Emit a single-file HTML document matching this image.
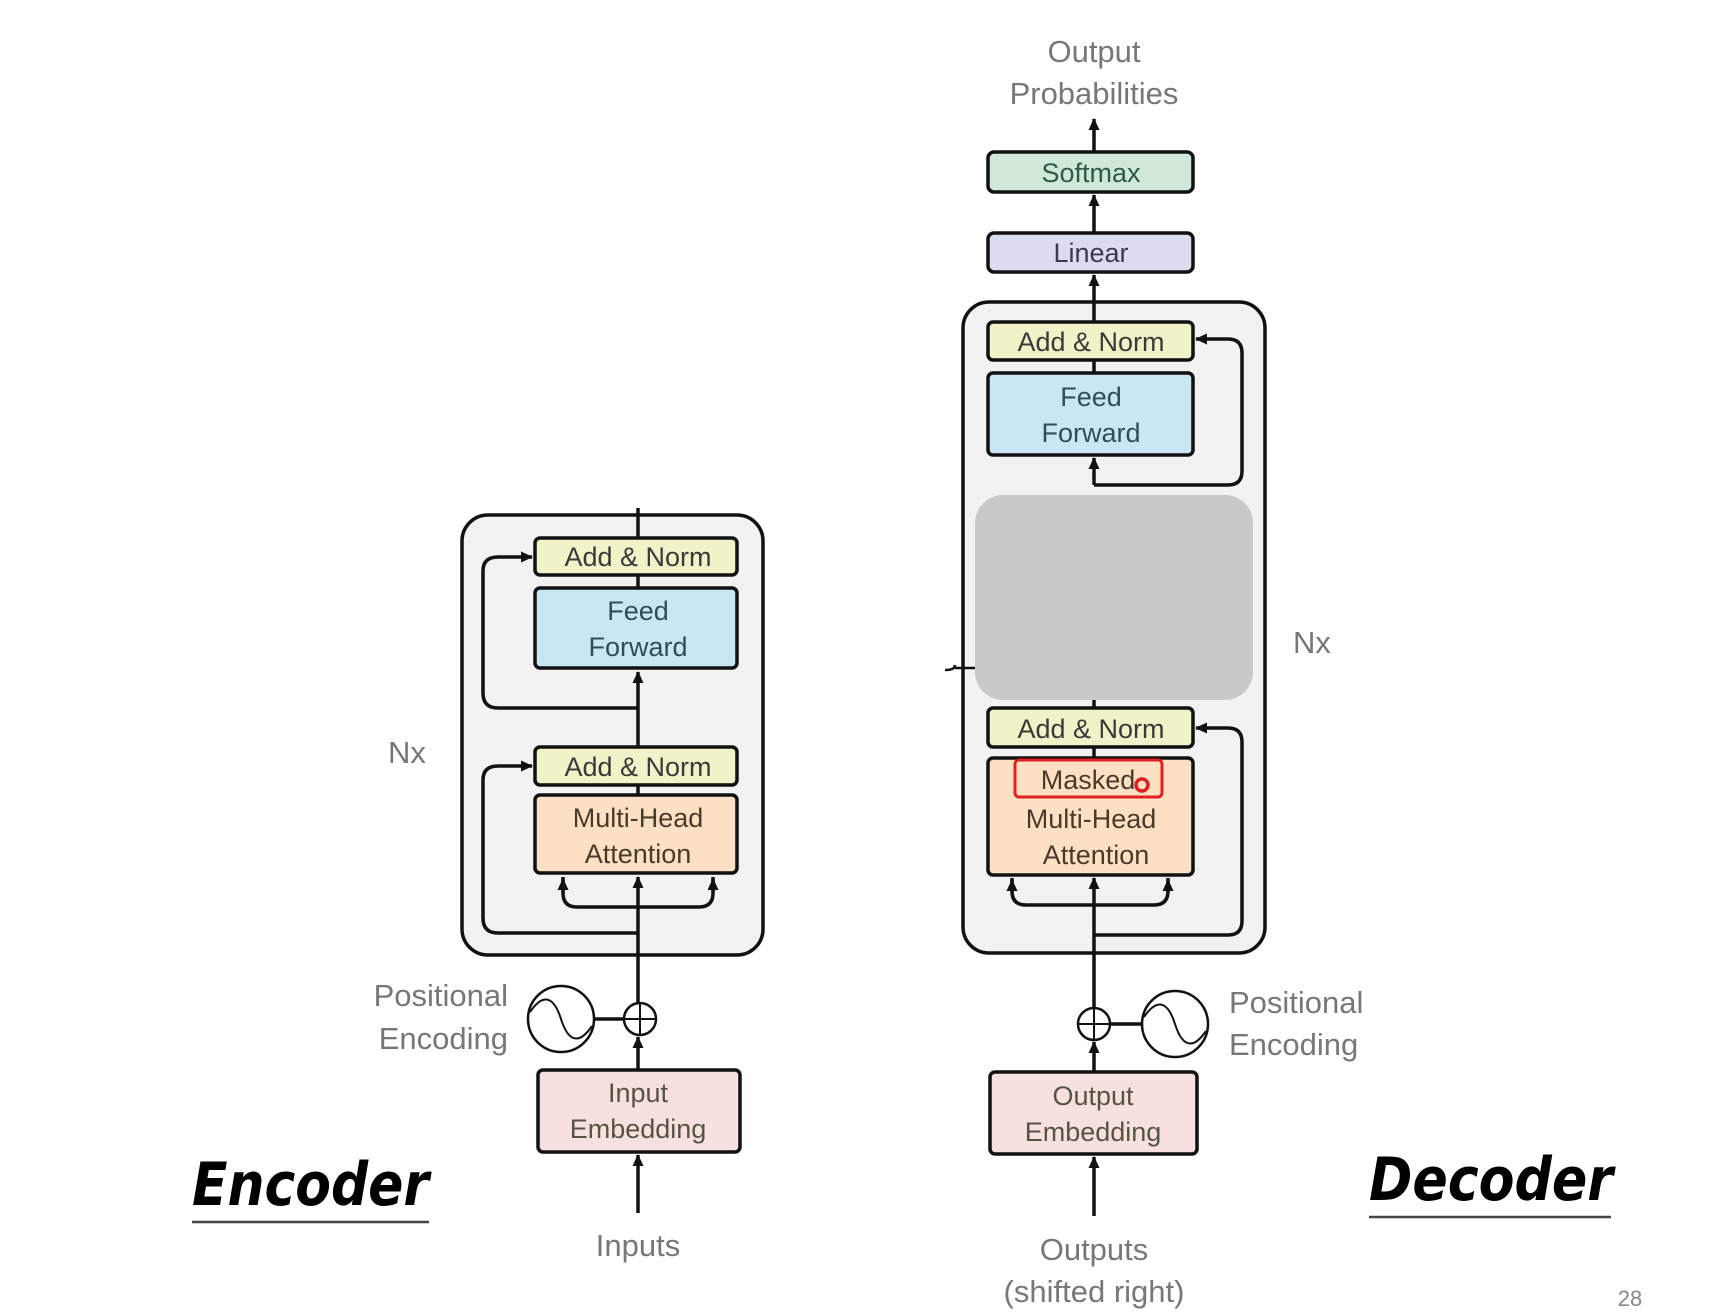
<!DOCTYPE html>
<html><head><meta charset="utf-8"><style>
html,body{margin:0;padding:0;background:#fff;}
svg{display:block;}
text{font-family:"Liberation Sans",sans-serif;}
</style></head><body>
<svg width="1734" height="1316" viewBox="0 0 1734 1316" xmlns="http://www.w3.org/2000/svg">
<defs>
<marker id="a" markerWidth="14" markerHeight="14" refX="11" refY="7" orient="auto" markerUnits="userSpaceOnUse">
<path d="M0,1.5 L12,7 L0,12.5 Z" fill="#111"/></marker>
</defs>
<rect width="1734" height="1316" fill="#fff"/>

<!-- ENCODER -->
<rect x="462" y="515" width="301" height="440" rx="26" fill="#f2f2f2" stroke="#111" stroke-width="3.5"/>
<g stroke="#111" stroke-width="3.5" fill="none">
<line x1="638" y1="1213" x2="638" y2="1155" marker-end="url(#a)"/>
<line x1="638" y1="1070" x2="638" y2="1037" marker-end="url(#a)"/>
<line x1="638" y1="1003" x2="638" y2="877" marker-end="url(#a)"/>
<line x1="638" y1="795" x2="638" y2="785"/>
<line x1="638" y1="747" x2="638" y2="672" marker-end="url(#a)"/>
<line x1="638" y1="588" x2="638" y2="575"/>
<line x1="638" y1="538" x2="638" y2="508"/>
<path d="M638,933 H498 Q483,933 483,918 V780 Q483,766 498,766 H532" marker-end="url(#a)"/>
<path d="M638,708 H498 Q483,708 483,693 V571 Q483,557 498,557 H532" marker-end="url(#a)"/>
<path d="M563,877 V893 Q563,907 577,907 H699 Q713,907 713,893 V877"/>
<line x1="563" y1="892" x2="563" y2="879" marker-end="url(#a)"/>
<line x1="713" y1="892" x2="713" y2="879" marker-end="url(#a)"/>
<line x1="594" y1="1019" x2="624" y2="1019"/>
</g>
<rect x="535" y="538" width="202" height="37" rx="5" fill="#f0f2c8" stroke="#111" stroke-width="3.5"/>
<rect x="535" y="588" width="202" height="80" rx="5" fill="#c8e6f4" stroke="#111" stroke-width="3.5"/>
<rect x="535" y="747" width="202" height="38" rx="5" fill="#f0f2c8" stroke="#111" stroke-width="3.5"/>
<rect x="535" y="795" width="202" height="78" rx="5" fill="#fbe0c4" stroke="#111" stroke-width="3.5"/>
<rect x="538" y="1070" width="202" height="82" rx="5" fill="#f8dfe0" stroke="#111" stroke-width="3.5"/>
<g font-size="27" fill="#3a3a3a" text-anchor="middle">
<text x="638" y="566">Add &amp; Norm</text>
<text x="638" y="620" fill="#2f4d5c">Feed</text>
<text x="638" y="656" fill="#2f4d5c">Forward</text>
<text x="638" y="776">Add &amp; Norm</text>
<text x="638" y="827" fill="#4a3a2a">Multi-Head</text>
<text x="638" y="863" fill="#4a3a2a">Attention</text>
<text x="638" y="1102" fill="#554">Input</text>
<text x="638" y="1138" fill="#554">Embedding</text>
</g>
<circle cx="561" cy="1019" r="33" fill="#fff" stroke="#111" stroke-width="2.5"/>
<path d="M530,1012 C545,990 555,1000 561,1019 C567,1038 577,1048 592,1026" fill="none" stroke="#111" stroke-width="2"/>
<circle cx="640" cy="1019" r="16" fill="#fff" stroke="#111" stroke-width="2.5"/>
<path d="M624,1019 H656 M640,1003 V1035" stroke="#111" stroke-width="2"/>
<g font-size="31" fill="#777">
<text x="508" y="1006" text-anchor="end">Positional</text>
<text x="508" y="1049" text-anchor="end">Encoding</text>
<text x="638" y="1256" text-anchor="middle">Inputs</text>
<text x="388" y="763">Nx</text>
</g>
<text x="192" y="1205" font-size="60" font-weight="bold" font-style="italic" fill="#000" textLength="237" lengthAdjust="spacingAndGlyphs" style="font-family:'DejaVu Sans Condensed','Liberation Sans',sans-serif">Encoder</text>
<line x1="192" y1="1222" x2="429" y2="1222" stroke="#444" stroke-width="2.5"/>

<!-- DECODER -->
<rect x="963" y="302" width="302" height="651" rx="26" fill="#f2f2f2" stroke="#111" stroke-width="3.5"/>
<g stroke="#111" stroke-width="3.5" fill="none">
<line x1="1094" y1="1216" x2="1094" y2="1157" marker-end="url(#a)"/>
<line x1="1094" y1="1072" x2="1094" y2="1042" marker-end="url(#a)"/>
<line x1="1094" y1="1008" x2="1094" y2="878" marker-end="url(#a)"/>
<line x1="1094" y1="758" x2="1094" y2="747"/>
<line x1="1094" y1="708" x2="1094" y2="690"/>
<line x1="1094" y1="485" x2="1094" y2="458" marker-end="url(#a)"/>
<line x1="1094" y1="373" x2="1094" y2="360"/>
<line x1="1094" y1="322" x2="1094" y2="275" marker-end="url(#a)"/>
<line x1="1094" y1="233" x2="1094" y2="195" marker-end="url(#a)"/>
<line x1="1094" y1="152" x2="1094" y2="119" marker-end="url(#a)"/>
<path d="M1094,935 H1228 Q1242,935 1242,921 V742 Q1242,728 1228,728 H1196" marker-end="url(#a)"/>
<path d="M1094,485 H1228 Q1242,485 1242,471 V353 Q1242,339 1228,339 H1196" marker-end="url(#a)"/>
<path d="M1012,878 V891 Q1012,905 1026,905 H1154 Q1168,905 1168,891 V878"/>
<line x1="1012" y1="892" x2="1012" y2="880" marker-end="url(#a)"/>
<line x1="1168" y1="892" x2="1168" y2="880" marker-end="url(#a)"/>
<line x1="1110" y1="1024" x2="1142" y2="1024"/>
<path d="M945,670 Q955,670 955,665 M955,668 H975" stroke-width="2.5"/>
</g>
<rect x="975" y="495" width="278" height="205" rx="28" fill="#c9c9c9"/>
<rect x="988" y="152" width="205" height="40" rx="6" fill="#cfe8d8" stroke="#111" stroke-width="3.5"/>
<rect x="988" y="233" width="205" height="39" rx="6" fill="#dcdcf0" stroke="#111" stroke-width="3.5"/>
<rect x="988" y="322" width="205" height="38" rx="5" fill="#f0f2c8" stroke="#111" stroke-width="3.5"/>
<rect x="988" y="373" width="205" height="82" rx="5" fill="#c8e6f4" stroke="#111" stroke-width="3.5"/>
<rect x="988" y="708" width="205" height="39" rx="5" fill="#f0f2c8" stroke="#111" stroke-width="3.5"/>
<rect x="988" y="758" width="205" height="117" rx="5" fill="#fbe0c4" stroke="#111" stroke-width="3.5"/>
<rect x="990" y="1072" width="207" height="82" rx="5" fill="#f8dfe0" stroke="#111" stroke-width="3.5"/>
<rect x="1015" y="760" width="147" height="37" rx="4" fill="none" stroke="#e02020" stroke-width="3"/>
<circle cx="1142" cy="785" r="6" fill="none" stroke="#e02020" stroke-width="3.5"/>
<g font-size="27" fill="#3a3a3a" text-anchor="middle">
<text x="1091" y="182" fill="#2f5a45">Softmax</text>
<text x="1091" y="262" fill="#3a3a55">Linear</text>
<text x="1091" y="351">Add &amp; Norm</text>
<text x="1091" y="406" fill="#2f4d5c">Feed</text>
<text x="1091" y="442" fill="#2f4d5c">Forward</text>
<text x="1091" y="738">Add &amp; Norm</text>
<text x="1088" y="789" fill="#4a3a2a">Masked</text>
<text x="1091" y="828" fill="#4a3a2a">Multi-Head</text>
<text x="1096" y="864" fill="#4a3a2a">Attention</text>
<text x="1093" y="1105" fill="#554">Output</text>
<text x="1093" y="1141" fill="#554">Embedding</text>
</g>
<circle cx="1175" cy="1024" r="33" fill="#fff" stroke="#111" stroke-width="2.5"/>
<path d="M1144,1017 C1159,995 1169,1005 1175,1024 C1181,1043 1191,1053 1206,1031" fill="none" stroke="#111" stroke-width="2"/>
<circle cx="1094" cy="1024" r="16" fill="#fff" stroke="#111" stroke-width="2.5"/>
<path d="M1078,1024 H1110 M1094,1008 V1040" stroke="#111" stroke-width="2"/>
<g font-size="31" fill="#777">
<text x="1094" y="62" text-anchor="middle">Output</text>
<text x="1094" y="104" text-anchor="middle">Probabilities</text>
<text x="1229" y="1013">Positional</text>
<text x="1229" y="1055">Encoding</text>
<text x="1094" y="1260" text-anchor="middle">Outputs</text>
<text x="1094" y="1302" text-anchor="middle">(shifted right)</text>
<text x="1293" y="653">Nx</text>
</g>
<text x="1369" y="1200" font-size="60" font-weight="bold" font-style="italic" fill="#000" textLength="244" lengthAdjust="spacingAndGlyphs" style="font-family:'DejaVu Sans Condensed','Liberation Sans',sans-serif">Decoder</text>
<line x1="1369" y1="1217" x2="1611" y2="1217" stroke="#444" stroke-width="2.5"/>
<text x="1630" y="1306" font-size="22" fill="#888" text-anchor="middle">28</text>
</svg>
</body></html>
